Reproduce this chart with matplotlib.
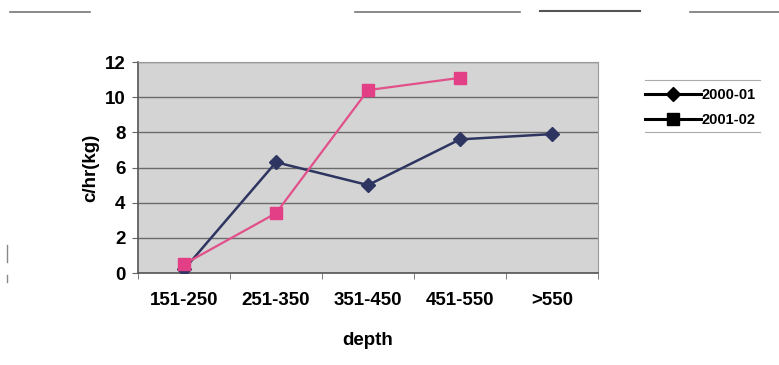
import matplotlib
matplotlib.use("Agg")
import matplotlib.pyplot as plt
from matplotlib.lines import Line2D

categories = ["151-250", "251-350", "351-450", "451-550", ">550"]
series_2000 = [0.2, 6.3, 5.0, 7.6, 7.9]
series_2001 = [0.5, 3.4, 10.4, 11.1]
series_names = ["2000-01", "2001-02"]
y_ticks = [0, 2, 4, 6, 8, 10, 12]

plt.rcParams['font.family'] = ['Liberation Sans', 'DejaVu Sans']

fig = plt.figure(figsize=(7.79, 3.65), dpi=100)
fig.patch.set_facecolor("white")
W, H = 779, 365
left, right, top, bottom = 138, 598, 62, 273
ax = fig.add_axes([left / W, 1 - bottom / H, (right - left) / W, (bottom - top) / H])
ax.set_facecolor("#d4d4d4")

x = list(range(len(categories)))
ax.plot(x, series_2000, color="#2e3560", lw=1.8, marker="D", ms=7,
        mfc="#2e3560", mec="#2e3560", zorder=3)
ax.plot(x[:len(series_2001)], series_2001, color="#e2508a", lw=1.6, marker="s", ms=9,
        mfc="#e23f87", mec="#e23f87", zorder=3)

ax.set_xlim(-0.5, len(categories) - 0.5)
ax.set_ylim(0, 12)
ax.set_yticks(y_ticks)
ax.set_yticklabels([str(t) for t in y_ticks], fontsize=13.5, fontweight="bold")
ax.set_xticks(x)
ax.set_xticklabels(categories, fontsize=13.5, fontweight="bold")
ax.set_xticks([i + 0.5 for i in range(-1, len(categories))], minor=True)
ax.tick_params(axis="x", which="major", length=0, pad=14)
ax.tick_params(axis="x", which="minor", length=4, color="#666666")
ax.tick_params(axis="y", length=4, color="#666666", pad=5)
ax.grid(axis="y", color="#6a6a6a", lw=1.0)
ax.set_axisbelow(True)
for s in ["top", "right"]:
    ax.spines[s].set_color("#9a9a9a")
for s in ["left", "bottom"]:
    ax.spines[s].set_color("#555555")
    ax.spines[s].set_linewidth(1.2)

ax.set_xlabel("depth", fontsize=13.5, fontweight="bold", labelpad=16)
ax.set_ylabel("c/hr(kg)", fontsize=13.5, fontweight="bold", labelpad=4)

handles = [
    Line2D([], [], color="black", lw=2.2, marker="D", ms=7, mfc="black", mec="black"),
    Line2D([], [], color="black", lw=2.2, marker="s", ms=8, mfc="black", mec="black"),
]
leg = fig.legend(handles, series_names, loc="upper left",
                 bbox_to_anchor=(632 / W, 1 - 75 / H), frameon=False,
                 prop={"weight": "bold", "size": 10.5}, handlelength=3.8,
                 handletextpad=0.1, labelspacing=0.75)

# scan artifacts (faint rules)
fig.add_artist(Line2D([10 / W, 90 / W], [1 - 12 / H, 1 - 12 / H], color="#777777", lw=1.2))
fig.add_artist(Line2D([355 / W, 520 / W], [1 - 12 / H, 1 - 12 / H], color="#777777", lw=1.2))
fig.add_artist(Line2D([540 / W, 640 / W], [1 - 11 / H, 1 - 11 / H], color="#555555", lw=1.5))
fig.add_artist(Line2D([690 / W, 779 / W], [1 - 12 / H, 1 - 12 / H], color="#777777", lw=1.2))
fig.add_artist(Line2D([645 / W, 760 / W], [1 - 80 / H, 1 - 80 / H], color="#aaaaaa", lw=0.8))
fig.add_artist(Line2D([645 / W, 760 / W], [1 - 132 / H, 1 - 132 / H], color="#aaaaaa", lw=0.8))
fig.add_artist(Line2D([7 / W, 7 / W], [1 - 245 / H, 1 - 262 / H], color="#888888", lw=1.0))
fig.add_artist(Line2D([7 / W, 7 / W], [1 - 275 / H, 1 - 282 / H], color="#888888", lw=1.0))

fig.savefig("out.png", dpi=100, facecolor="white")
